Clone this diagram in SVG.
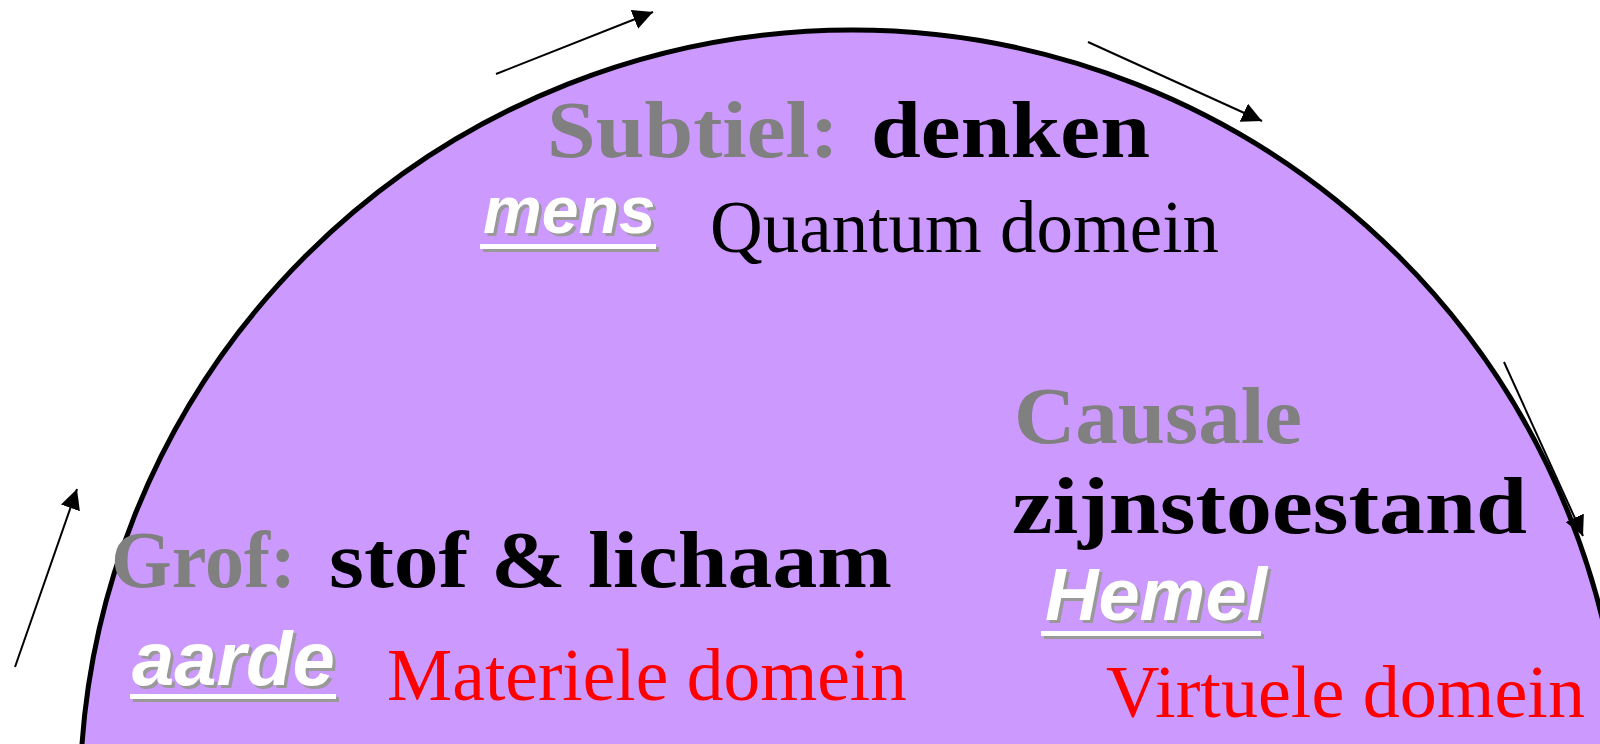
<svg xmlns="http://www.w3.org/2000/svg" width="1600" height="744" viewBox="0 0 1600 744">
<defs>
<marker id="ah" markerUnits="userSpaceOnUse" markerWidth="22" markerHeight="22" refX="20" refY="10" orient="auto">
<path d="M0,0 L20,10 L0,20 Z" fill="#000"/>
</marker>
<style>
.bold{font-family:"Liberation Serif","Times New Roman",serif;font-weight:bold;font-size:80px}
.gray{fill:#808080}
.blk{fill:#000}
.reg{font-family:"Liberation Serif","Times New Roman",serif;font-size:74px}
.red{fill:#ff0000}
.lab{font-family:"Liberation Sans",Arial,sans-serif;font-weight:bold;font-style:italic}
.shadow{fill:#999999}
.white{fill:#ffffff}
.arrow{stroke:#000;stroke-width:2;fill:none;marker-end:url(#ah)}
</style>
</defs>
<rect width="1600" height="744" fill="#ffffff"/>
<g id="dome">
<ellipse cx="852" cy="800" rx="772" ry="770" fill="#cc99ff" stroke="#000" stroke-width="5"/>
</g>
<g id="connectors">
<line class="arrow" x1="496" y1="74" x2="653" y2="12"/>
<line class="arrow" x1="1088" y1="42" x2="1262" y2="121"/>
<line class="arrow" x1="1504" y1="362" x2="1583" y2="536"/>
<line class="arrow" x1="15" y1="667" x2="77" y2="489"/>
</g>
<g id="subtiel">
<text class="bold gray" x="547" y="157" textLength="292" lengthAdjust="spacingAndGlyphs">Subtiel:</text>
<text class="bold blk" x="871" y="157" textLength="279" lengthAdjust="spacingAndGlyphs">denken</text>
<rect class="shadow" x="483" y="247" width="176" height="5"/>
<text class="lab shadow" x="486" y="236" font-size="66">mens</text>
<rect class="white" x="480" y="244" width="176" height="5"/>
<text class="lab white" x="483" y="233" font-size="66">mens</text>
<text class="reg blk" x="710" y="252" textLength="509" lengthAdjust="spacingAndGlyphs">Quantum domein</text>
</g>
<g id="causale">
<text class="bold gray" x="1014" y="443" textLength="288" lengthAdjust="spacingAndGlyphs">Causale</text>
<text class="bold blk" x="1012" y="533" textLength="515" lengthAdjust="spacingAndGlyphs">zijnstoestand</text>
<rect class="shadow" x="1044" y="634" width="220" height="5"/>
<text class="lab shadow" x="1048" y="623" font-size="74">Hemel</text>
<rect class="white" x="1041" y="631" width="220" height="5"/>
<text class="lab white" x="1045" y="620" font-size="74">Hemel</text>
<text class="reg red" x="1106" y="717" textLength="479" lengthAdjust="spacingAndGlyphs">Virtuele domein</text>
</g>
<g id="grof">
<text class="bold gray" x="111" y="587" textLength="185" lengthAdjust="spacingAndGlyphs">Grof:</text>
<text class="bold blk" x="329" y="587" textLength="563" lengthAdjust="spacingAndGlyphs">stof &amp; lichaam</text>
<rect class="shadow" x="133" y="697" width="206" height="5"/>
<text class="lab shadow" x="135" y="688" font-size="76">aarde</text>
<rect class="white" x="130" y="694" width="206" height="5"/>
<text class="lab white" x="132" y="685" font-size="76">aarde</text>
<text class="reg red" x="387" y="700" textLength="520" lengthAdjust="spacingAndGlyphs">Materiele domein</text>
</g>
</svg>
